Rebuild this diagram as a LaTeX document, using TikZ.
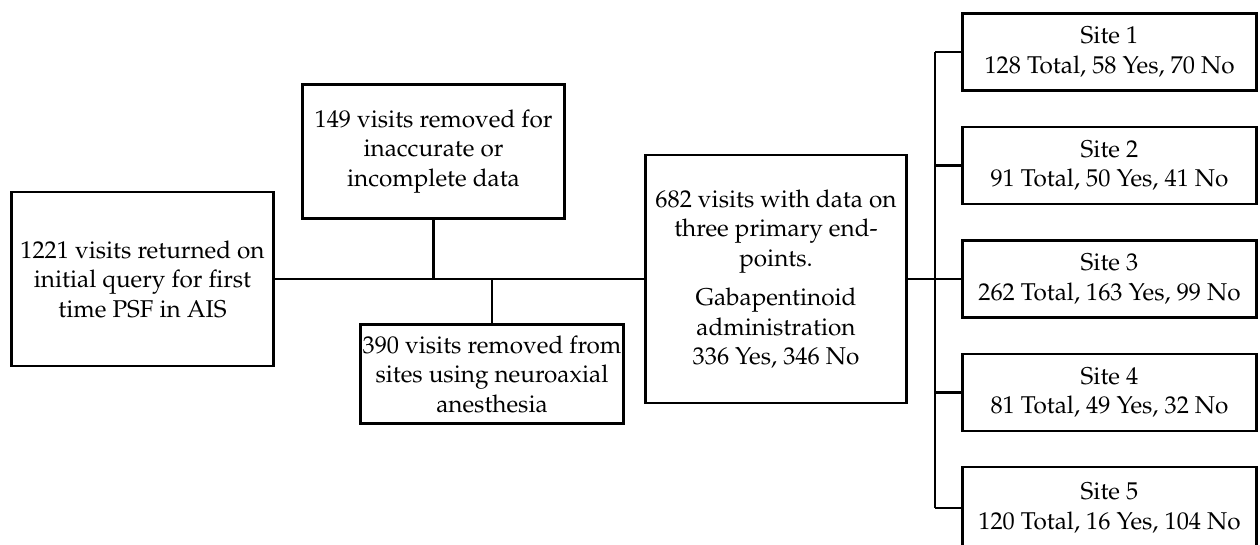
\documentclass[tikz,border=0pt]{standalone}
\usepackage[T1]{fontenc}
\usepackage{mathpazo}
\begin{document}
\begin{tikzpicture}[x=1pt,y=-1pt,
  box/.style={draw=black, line width=2.9pt, align=center, inner xsep=0pt, inner ysep=0pt,
    font=\fontsize{24.3}{29.5}\selectfont},
  link/.style={draw=black, line width=2.9pt}]
\useasboundingbox[fill=white] (0,0) rectangle (1260,544);
% main column
\node[box, minimum width=262pt, minimum height=174pt] (A) at (142.5,279) {1221 visits returned on\\initial query for first\\time PSF in AIS};
\node[box, minimum width=262pt, minimum height=134pt] (B) at (433.5,151.5) {149 visits removed for\\inaccurate or\\incomplete data};
\node[box, minimum width=263pt, minimum height=99pt] (D) at (492,374) {390 visits removed from\\sites using neuroaxial\\anesthesia};
\node[box, minimum width=261pt, minimum height=248pt] (C) at (776,279) {682 visits with data on\\three primary end-\\points.\\[10pt]Gabapentinoid\\administration\\336 Yes, 346 No};
% sites
\node[box, minimum width=294pt, minimum height=77pt] (S1) at (1109.5,52) {Site 1\\128 Total, 58 Yes, 70 No};
\node[box, minimum width=294pt, minimum height=77pt] (S2) at (1109.5,165.5) {Site 2\\91 Total, 50 Yes, 41 No};
\node[box, minimum width=294pt, minimum height=77pt] (S3) at (1109.5,279) {Site 3\\262 Total, 163 Yes, 99 No};
\node[box, minimum width=294pt, minimum height=77pt] (S4) at (1109.5,392.5) {Site 4\\81 Total, 49 Yes, 32 No};
\node[box, minimum width=294pt, minimum height=82pt] (S5) at (1109.5,508) {Site 5\\120 Total, 16 Yes, 104 No};
\coordinate (bus) at (935,279);
% connectors
\draw[link] (A.east) -- (C.west);
\draw[link] (B.south) -- (B.south |- A.east);
\draw[link] (D.north) -- (D.north |- A.east);
\draw[link] (C.east) -- (bus);
\draw[link] (S1.west -| bus) -- (S5.west -| bus);
\draw[link] (S1.west -| bus) -- (S1.west);
\draw[link] (S2.west -| bus) -- (S2.west);
\draw[link] (S3.west -| bus) -- (S3.west);
\draw[link] (S4.west -| bus) -- (S4.west);
\draw[link] (S5.west -| bus) -- (S5.west);
\end{tikzpicture}
\end{document}
